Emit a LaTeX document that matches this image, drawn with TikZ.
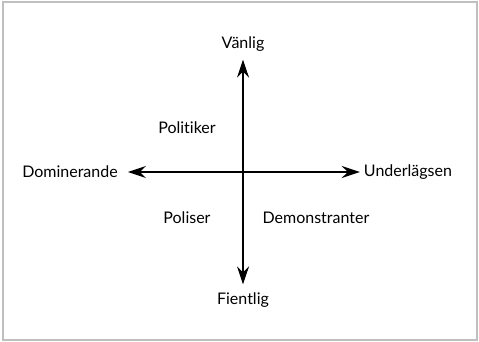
\documentclass[tikz,border=0pt]{standalone}
\usepackage{fontspec}
\setmainfont{Lato}[Ligatures=NoCommon]
\usepackage{tikz}
\usetikzlibrary{arrows.meta}

\tikzset{
  lbl/.style={text=black, inner sep=0pt, font=\fontsize{16}{19}\selectfont},
  axis/.style={{Stealth[length=18pt,width=12pt,inset=6pt]}-{Stealth[length=18pt,width=12pt,inset=6pt]}},
}

\begin{document}
\begin{tikzpicture}[x=1pt, y=-1pt]
  \useasboundingbox (0,0) rectangle (479,342);
  \draw[draw=black!25, line width=2pt] (2.5,2.5) rectangle (477,340);

  \node[lbl] (van) at (243, 44) {Vänlig};
  \node[lbl] (fie) at (243, 300) {Fientlig};
  \node[lbl] (dom) at (70, 172) {Dominerande};
  \node[lbl] (und) at (408, 172) {Underlägsen};

  \node[lbl] (pol) at (187, 128) {Polit\kern0pt iker};
  \node[lbl] (pos) at (187, 218) {Poliser};
  \node[lbl] (dem) at (316, 218) {Demonstranter};

  \draw[axis, line width=1.8pt, shorten <=10pt, shorten >=4pt] (dom.east) -- (und.west);
  \draw[axis, line width=1.1pt, shorten <=8pt, shorten >=8pt] (van.south) -- (fie.north);
\end{tikzpicture}
\end{document}
